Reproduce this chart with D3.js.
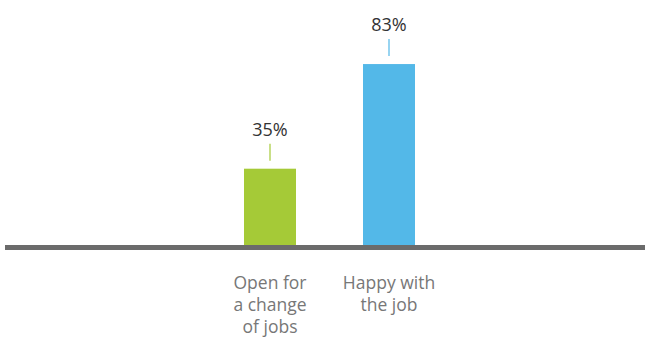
<!DOCTYPE html>
<html lang="en">
	<head>
		<meta charset="UTF-8">
		<title>Chart</title>
		<script src="https://cdnjs.cloudflare.com/ajax/libs/d3/7.8.5/d3.min.js"></script>
		<style>
			body { margin: 0; background: #fff; }
			text { font-family: "Open Sans", sans-serif; }
		</style>
		<script>
var categories = ["Open for a change of jobs", "Happy with the job"];
var labelLines = [["Open for", "a change", "of jobs"], ["Happy with", "the job"]];
var values = [35, 83];
var colors = ["#a5ca37", "#53b8e8"];

function makeChart() {
	var svg = d3.select("svg");
	var baseY = 245;

	var scX = d3.scalePoint()
		.domain(categories)
		.range([270, 389]);

	var scY = d3.scaleLinear()
		.domain([0, 100])
		.range([baseY, baseY - 218]);

	var barW = 52;
	var data = categories.map((c, i) => ({ cat: c, val: values[i], color: colors[i], lines: labelLines[i] }));

	svg.append("g")
		.selectAll("rect")
		.data(data)
		.enter()
		.append("rect")
		.attr("x", d => scX(d.cat) - barW / 2)
		.attr("y", d => scY(d.val))
		.attr("width", barW)
		.attr("height", d => baseY - scY(d.val))
		.attr("fill", d => d.color);

	// little connector ticks above each bar
	svg.append("g")
		.selectAll("line")
		.data(data)
		.enter()
		.append("line")
		.attr("x1", d => scX(d.cat))
		.attr("x2", d => scX(d.cat))
		.attr("y1", d => scY(d.val) - 8)
		.attr("y2", d => scY(d.val) - 25)
		.attr("stroke", d => d.color)
		.attr("stroke-width", 1.2);

	svg.append("g")
		.selectAll("text")
		.data(data)
		.enter()
		.append("text")
		.attr("x", d => scX(d.cat))
		.attr("y", d => scY(d.val) - 33)
		.attr("text-anchor", "middle")
		.attr("font-size", 18)
		.attr("fill", "#333")
		.text(d => d.val + "%");

	// baseline
	svg.append("line")
		.attr("x1", 5)
		.attr("x2", 645)
		.attr("y1", baseY + 2.5)
		.attr("y2", baseY + 2.5)
		.attr("stroke", "#6b6b6b")
		.attr("stroke-width", 5);

	var lab = svg.append("g")
		.selectAll("text")
		.data(data)
		.enter()
		.append("text")
		.attr("text-anchor", "middle")
		.attr("font-size", 17.5)
		.attr("fill", "#777");

	lab.selectAll("tspan")
		.data(d => d.lines.map(l => ({ t: l, x: scX(d.cat) })))
		.enter()
		.append("tspan")
		.attr("x", d => d.x)
		.attr("y", (d, i) => 289 + i * 22)
		.text(d => d.t);
}
		</script>
	</head>
	<body onload="makeChart()">
		<svg width="645" height="338"></svg>
	</body>
</html>
